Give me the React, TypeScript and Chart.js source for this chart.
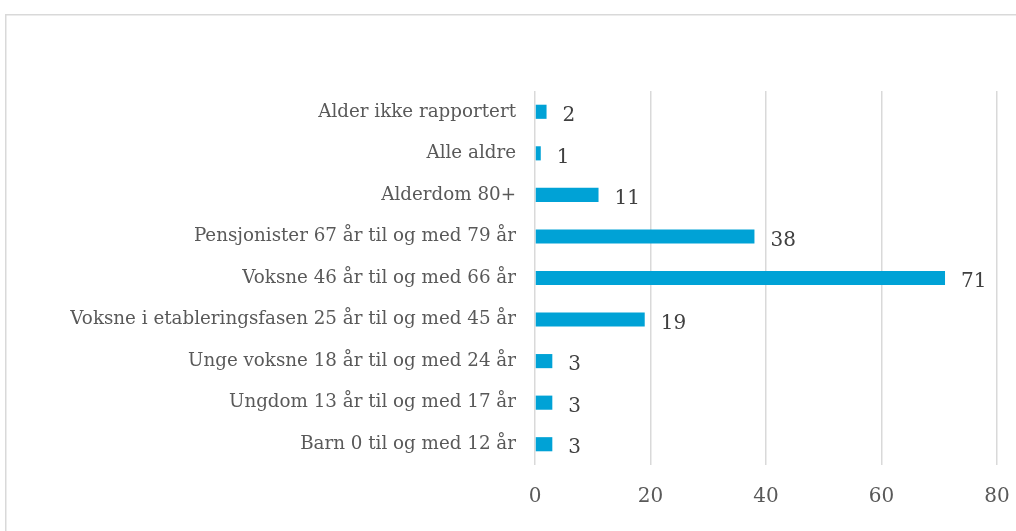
import React, { useEffect, useRef } from "react";
import { Chart, registerables } from "chart.js";

Chart.register(...registerables);

const categories = [
  "Alder ikke rapportert",
  "Alle aldre",
  "Alderdom 80+",
  "Pensjonister 67 år til og med 79 år",
  "Voksne 46 år til og med 66 år",
  "Voksne i etableringsfasen 25 år til og med 45 år",
  "Unge voksne 18 år til og med 24 år",
  "Ungdom 13 år til og med 17 år",
  "Barn 0 til og med 12 år",
];
const values = [2, 1, 11, 38, 71, 19, 3, 3, 3];
const xMin = 0;
const xMax = 80;
const xStep = 20;

const FONT = "'DejaVu Serif', serif";

const valueLabels = {
  id: "valueLabels",
  afterDatasetsDraw(chart: any) {
    const ctx = chart.ctx;
    const meta = chart.getDatasetMeta(0);
    ctx.save();
    ctx.font = `20px ${FONT}`;
    ctx.fillStyle = "#404040";
    ctx.textAlign = "left";
    ctx.textBaseline = "middle";
    meta.data.forEach((bar: any, i: number) => {
      ctx.fillText(String(values[i]), bar.x + 16, bar.y + 4);
    });
    ctx.restore();
  },
};

const frame = {
  id: "frame",
  beforeDraw(chart: any) {
    const ctx = chart.ctx;
    ctx.save();
    ctx.strokeStyle = "#d9d9d9";
    ctx.lineWidth = 1.5;
    ctx.beginPath();
    ctx.moveTo(5.75, chart.height + 5);
    ctx.lineTo(5.75, 14.75);
    ctx.lineTo(chart.width + 5, 14.75);
    ctx.stroke();
    ctx.restore();
  },
};

export default function App() {
  const ref = useRef<HTMLCanvasElement>(null);
  useEffect(() => {
    if (!ref.current) return;
    const chart = new Chart(ref.current, {
      type: "bar",
      data: {
        labels: categories,
        datasets: [
          {
            data: values,
            backgroundColor: "#00A2D6",
            barPercentage: 0.34,
            categoryPercentage: 1,
          },
        ],
      },
      options: {
        indexAxis: "y",
        animation: false,
        responsive: false,
        layout: { padding: { top: 91, right: 19, left: 0, bottom: 0 } },
        plugins: { legend: { display: false }, tooltip: { enabled: false } },
        scales: {
          x: {
            min: xMin,
            max: xMax,
            ticks: {
              stepSize: xStep,
              color: "#595959",
              font: { family: FONT, size: 20 },
              padding: 20,
              maxRotation: 0,
            },
            grid: { color: "#d9d9d9", lineWidth: 1.5, drawTicks: false },
            border: { display: false },
            afterFit(scale: any) {
              scale.height = 66;
              scale.paddingLeft = 0;
              scale.paddingRight = 0;
            },
          },
          y: {
            ticks: {
              color: "#595959",
              font: { family: FONT, size: 18.3 },
              padding: 19,
            },
            grid: { display: false, drawTicks: false },
            border: { display: false },
            afterFit(scale: any) {
              scale.width = 535;
            },
          },
        },
      },
      plugins: [valueLabels, frame],
    });
    return () => chart.destroy();
  }, []);
  return (
    <div style={{ position: "fixed", left: 0, top: 0, width: 1016, height: 531, background: "#fff", overflow: "hidden" }}>
      <canvas ref={ref} width={1016} height={531} style={{ width: 1016, height: 531, display: "block" }} />
    </div>
  );
}
